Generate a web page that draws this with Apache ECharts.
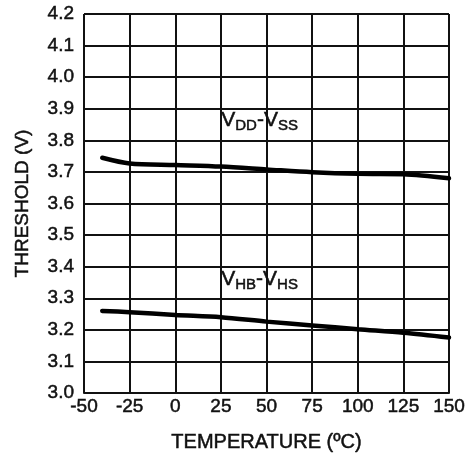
<!DOCTYPE html>
<html>
<head>
<meta charset="utf-8">
<script src="https://cdn.jsdelivr.net/npm/echarts@6/dist/echarts.min.js"></script>
<style>
  html, body { margin: 0; padding: 0; background: #fff; }
  #chart { width: 472px; height: 461px; }
</style>
</head>
<body>
<div id="chart"></div>
<script>
// Threshold vs temperature
const temps = [-40, -25, 0, 25, 50, 75, 100, 125, 150]
const vddVss = [3.745, 3.727, 3.722, 3.717, 3.708, 3.699, 3.694, 3.693, 3.680]
const vhbVhs = [3.260, 3.256, 3.247, 3.240, 3.226, 3.214, 3.202, 3.191, 3.176]

const font = "Liberation Sans, Arial, sans-serif"
const ink = "#111"

const chart = echarts.init(document.getElementById("chart"))

const pairs = (ys) => temps.map((t, i) => [t, ys[i]])

const heavy = { textBorderColor: ink, textBorderWidth: 0.5 }

const richLabel = {
    m: { fontFamily: font, fontSize: 21, fill: ink, stroke: ink, lineWidth: 0.5, verticalAlign: "top", lineHeight: 24 },
    s: { fontFamily: font, fontSize: 15, fill: ink, stroke: ink, lineWidth: 0.5, verticalAlign: "top", lineHeight: 24, padding: [9, 0, 0, 0] },
}

const option = {
    animation: false,
    backgroundColor: "#fff",
    grid: { left: 84, right: 23, top: 14, bottom: 68 },
    xAxis: {
        type: "value",
        min: -50,
        max: 150,
        interval: 25,
        name: "TEMPERATURE (ºC)",
        nameLocation: "middle",
        nameGap: 39,
        nameTextStyle: { fontFamily: font, fontSize: 20, color: ink, ...heavy },
        axisLine: { show: true, lineStyle: { color: ink, width: 2 } },
        axisTick: { show: false },
        axisLabel: { fontFamily: font, fontSize: 19, color: ink, margin: 4, ...heavy },
        splitLine: { show: true, lineStyle: { color: ink, width: 2 } },
    },
    yAxis: {
        type: "value",
        min: 3.0,
        max: 4.2,
        interval: 0.1,
        name: "THRESHOLD (V)",
        nameLocation: "middle",
        nameGap: 52,
        nameTextStyle: { fontFamily: font, fontSize: 19, color: ink, ...heavy },
        axisLine: { show: true, lineStyle: { color: ink, width: 2 } },
        axisTick: { show: false },
        axisLabel: {
            fontFamily: font, fontSize: 19, color: ink, margin: 10, ...heavy,
            formatter: (v) => v.toFixed(1),
        },
        splitLine: { show: true, lineStyle: { color: ink, width: 2 } },
    },
    series: [
        {
            name: "VDD-VSS",
            type: "line",
            data: pairs(vddVss),
            smooth: 0.3,
            symbol: "none",
            lineStyle: { color: "#000", width: 4.5, cap: "round" },
        },
        {
            name: "VHB-VHS",
            type: "line",
            data: pairs(vhbVhs),
            smooth: 0.3,
            symbol: "none",
            lineStyle: { color: "#000", width: 4.5, cap: "round" },
        },
    ],
    graphic: [
        {
            type: "text",
            left: 221,
            top: 109,
            style: { text: "{m|V}{s|DD}{m|-V}{s|SS}", rich: richLabel },
        },
        {
            type: "text",
            left: 221,
            top: 268,
            style: { text: "{m|V}{s|HB}{m|-V}{s|HS}", rich: richLabel },
        },
    ],
}

chart.setOption(option)

window.addEventListener("resize", () => {
    chart.resize()
})
</script>
</body>
</html>
